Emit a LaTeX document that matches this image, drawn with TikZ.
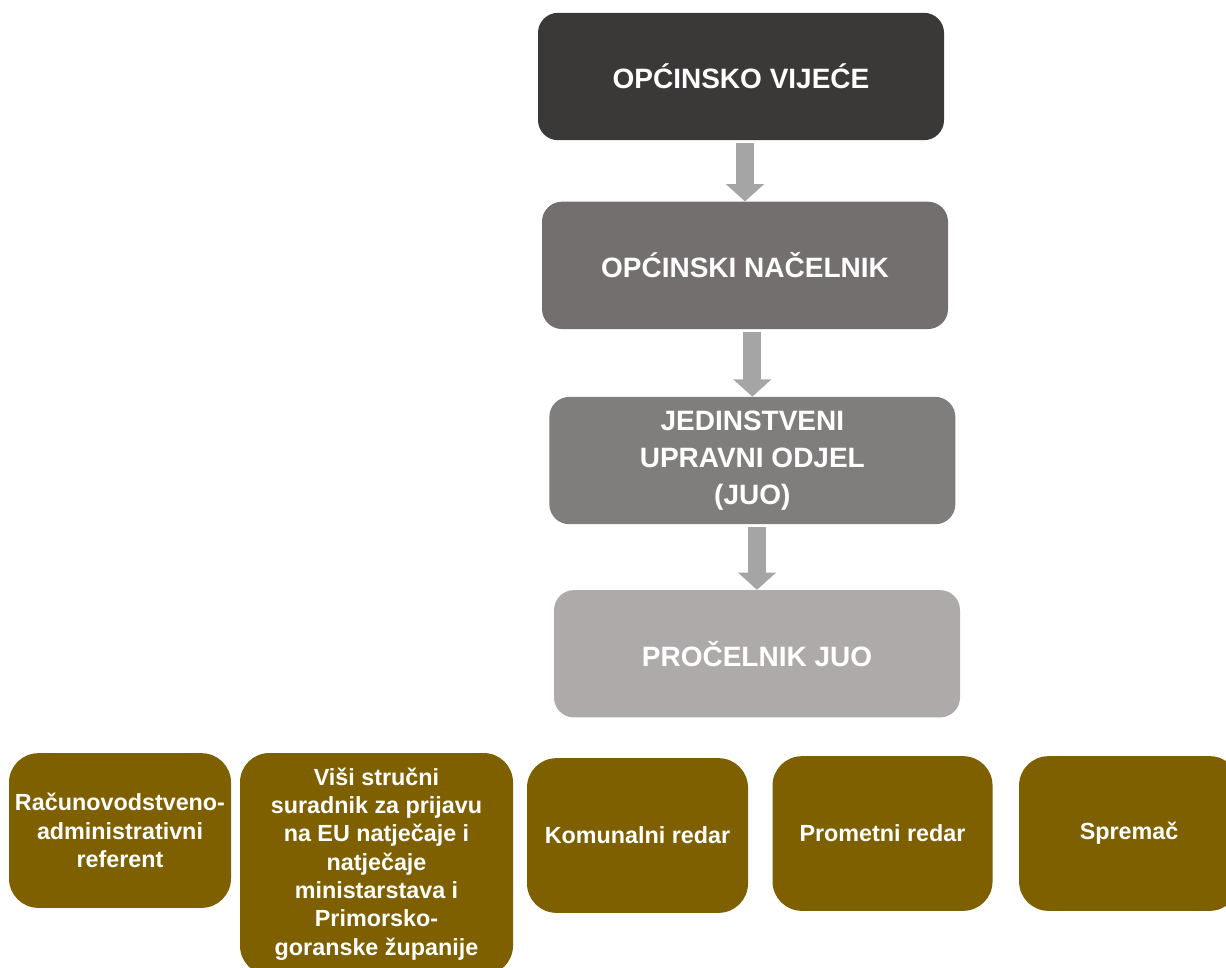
\documentclass[tikz,border=0pt]{standalone}
\usepackage{fontspec}
\setmainfont{Liberation Sans}
\usetikzlibrary{arrows.meta, positioning}

\definecolor{vijece}{HTML}{3B3937}
\definecolor{nacelnik}{HTML}{736F6E}
\definecolor{odjel}{HTML}{7F7E7D}
\definecolor{procelnik}{HTML}{AEAAA9}
\definecolor{strelica}{HTML}{A5A5A5}
\definecolor{posao}{HTML}{7F6000}

\begin{document}
\begin{tikzpicture}[
	x=0.75pt,
	y=-0.75pt,
	box/.style={rounded corners=15pt, minimum width=304.5pt, minimum height=95.5pt,
		inner sep=0pt, align=center, text=white,
		font=\bfseries\fontsize{21}{27.5}\selectfont},
	post/.style={rounded corners=22pt, minimum height=116pt, inner sep=0pt,
		align=center, fill=posao, text=white,
		font=\bfseries\fontsize{17.5}{21.2}\selectfont},
	flow/.style={draw=strelica, line width=13.5pt, shorten <=2pt,
		-{Triangle[length=13pt,width=28pt]}}
]
\clip (0,0) rectangle (1226,967);

% chain of the municipality
\node[box, fill=vijece] (vij) at (741,76.5) {OPĆINSKO VIJEĆE};
\node[box, fill=nacelnik] (nac) [below=45.75pt of vij, xshift=3pt] {OPĆINSKI NAČELNIK};
\node[box, fill=odjel] (juo) [below=50.5pt of nac, xshift=5.5pt] {JEDINSTVENI\\UPRAVNI ODJEL\\(JUO)};
\node[box, fill=procelnik] (pro) [below=49pt of juo, xshift=3.5pt] {PROČELNIK JUO};

\path	(vij.south -| nac.north) edge [flow] (nac.north)
		(nac.south -| juo.north) edge [flow] (juo.north)
		(juo.south -| pro.north) edge [flow] (pro.north);

% employees
\node[post, minimum width=166.5pt] (rac) at (120,830.5) {Računovodstveno-\\administrativni\\referent};
\node[post, minimum width=204.75pt, minimum height=166.5pt] (eu) at (376.5,864)
	{Viši stručni\\suradnik za prijavu\\na EU natječaje i\\natječaje\\ministarstava i\\Primorsko-\\goranske županije};
\node[post, minimum width=165.75pt] (kom) at (637.5,835.5) {Komunalni redar};
\node[post, minimum width=165pt] (prom) [right=18pt of kom, yshift=1.5pt] {Prometni redar};
\node[post, minimum width=165pt] (spr) [right=19.5pt of prom] {Spremač};
\end{tikzpicture}
\end{document}
